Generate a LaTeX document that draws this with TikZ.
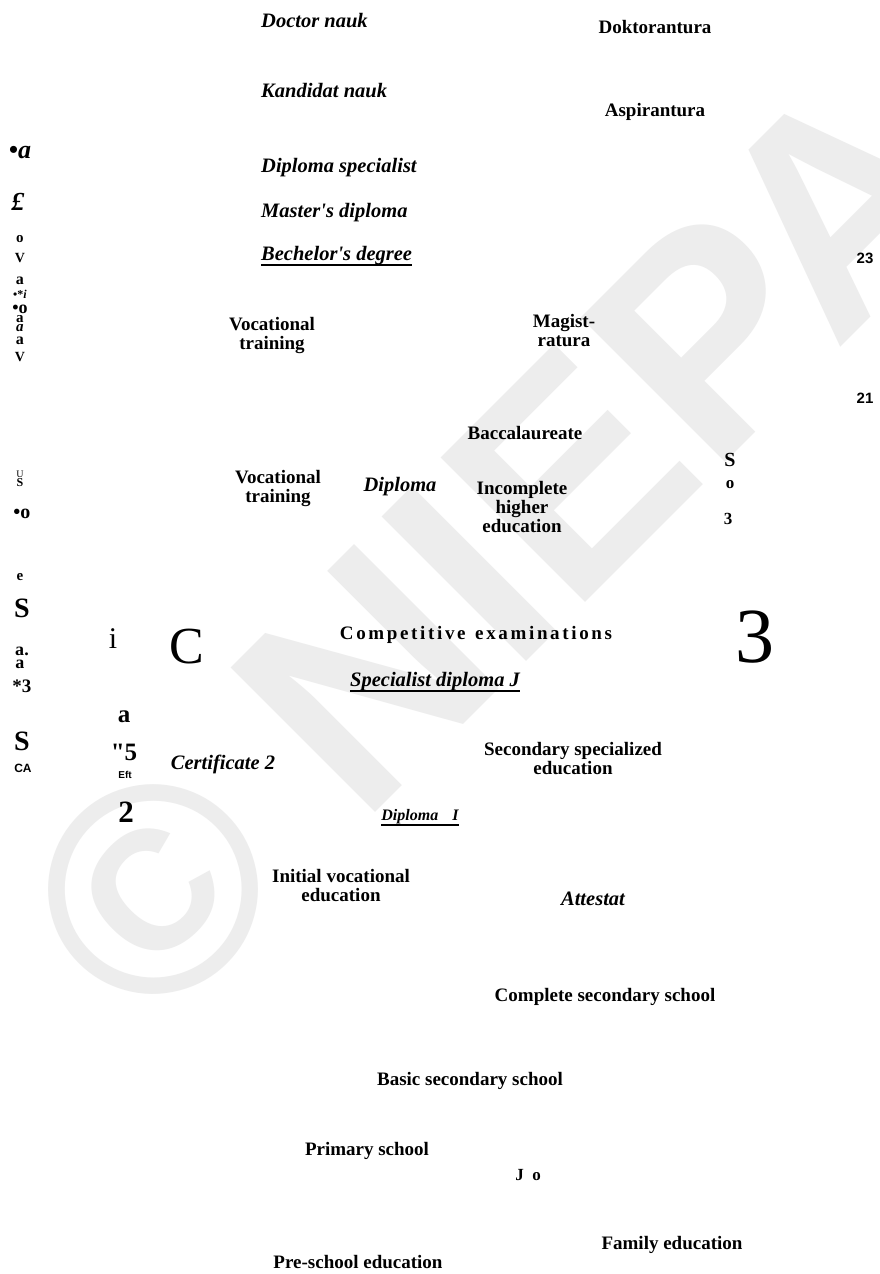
\documentclass[tikz,border=0pt]{standalone}
\usepackage{fontspec}
\setmainfont{Liberation Serif}
\newfontfamily\sansfam{Liberation Sans}
\usetikzlibrary{positioning}
\newcommand{\fsz}[1]{\fontsize{#1}{#1}\selectfont}
\definecolor{wmgray}{RGB}{237,237,237}

\begin{document}
\begin{tikzpicture}[
  x=1pt, y=-1pt,
  lbl/.style={inner sep=0pt, align=center, font=\fsz{19}\bfseries},
  ilbl/.style={inner sep=0pt, align=center, font=\fsz{20.5}\bfseries\itshape},
  gl/.style={inner sep=0pt, font=\fsz{#1}\bfseries},
  gi/.style={inner sep=0pt, font=\fsz{#1}\bfseries\itshape},
  gr/.style={inner sep=0pt, font=\fsz{#1}},
  gs/.style={inner sep=0pt, font=\sansfam\fsz{#1}\bfseries},
  uline/.style={line width=1.5pt},
]

\fill[white] (0,0) rectangle (880,1274);
\useasboundingbox (0,0) rectangle (880,1274);

%% WATERMARK
\node[rotate=45, anchor=base west, inner sep=0pt, text=wmgray,
      font=\sansfam\fsz{297}\bfseries] (wm) at (148,1040) {© NIEPA};

%% DEGREES (top)
\node[ilbl, anchor=west] (doctor)   at (261,21)  {Doctor nauk};
\node[lbl]               (doktor)   at (655,27)  {Doktorantura};
\node[ilbl, anchor=west] (kandidat) at (261,91)  {Kandidat nauk};
\node[lbl]               (aspir)    at (655,112) {Aspirantura};
\node[ilbl, anchor=west] (dipspec)  at (261,168) {Diploma specialist};
\node[ilbl, anchor=west] (master)   at (261,213) {Master\textquotesingle s diploma};
\node[ilbl, anchor=west] (bach)     at (261,256) {Bechelor\textquotesingle s degree};

%% HIGHER EDUCATION
\node[lbl] (voc1)    at (272,336) {Vocational\\training};
\node[lbl] (magist)  at (564,331) {Magist-\\ratura};
\node[lbl] (bacc)    at (525,433) {Baccalaureate};
\node[lbl] (voc2)    at (278,488) {Vocational\\training};
\node[ilbl] (dipl)   at (400,487) {Diploma};
\node[lbl] (incompl) at (522,507) {Incomplete\\higher\\education};

\node[lbl, font=\fsz{19}\bfseries\addfontfeature{LetterSpace=14}] (compet)
  at (476,635) {Competitive\enspace examinations};
\node[ilbl] (specdip) at (435,682) {Specialist diploma J};

%% SECONDARY
\node[lbl]  (secspec) at (573,759) {Secondary specialized\\education};
\node[ilbl] (cert)    at (223,764) {Certificate 2};
\node[ilbl, font=\fsz{16}\bfseries\itshape] (diplI) at (420,817)
  {Diploma\hspace{14pt}I};
\node[lbl]  (initvoc) at (341,886) {Initial vocational\\education};
\node[ilbl] (attest)  at (593,899) {Attestat};

%% SCHOOL
\node[lbl] (complsec) at (605,997)  {Complete secondary school};
\node[lbl] (basicsec) at (470,1081) {Basic secondary school};
\node[lbl] (primary)  at (367,1151) {Primary school};
\node[lbl, font=\fsz{17}\bfseries] (jo) at (528,1175) {J\enspace o};
\node[lbl] (family)   at (672,1245) {Family education};
\node[lbl] (presch)   at (358,1262) {Pre-school education};

%% UNDERLINES
\draw[uline] ([yshift=-4pt]bach.base west)    -- ([yshift=-4pt]bach.base east);
\draw[uline] ([yshift=-4pt]specdip.base west) -- ([yshift=-4pt]specdip.base east);
\draw[uline] ([yshift=-4pt]diplI.base west)   -- ([yshift=-4pt]diplI.base east);

%% LEFT MARGIN
\node[gi=26] (ma) at (20,153) {•a};
\node[gi=26] (mb) at (18,202) {£};
\node[gl=15] (mc) at (20,239) {o};
\node[gl=14] (md) at (20,258) {V};
\node[gl=16] (me) at (20,281) {a};
\node[gl=12] (mf) at (20,294) {•*\textit{i}};
\node[gl=18] (mg) at (20,309) {•o};
\node[gl=15] (mh) at (20,319) {a};
\node[gi=15] (mi) at (20,328) {a};
\node[gl=16] (mj) at (20,341) {a};
\node[gl=14] (mk) at (20,357) {V};

\node[gr=10] (ml) at (20,474) {U};
\node[gl=12] (mm) at (20,483) {S};
\node[gl=20] (mn) at (22,514) {•o};
\node[gl=15] (mo) at (20,577) {e};
\node[gl=28] (mp) at (22,608) {S};
\node[gl=18] (mq) at (22,651) {a.};
\node[gl=18] (mr) at (20,664) {a};
\node[gl=19] (ms) at (22,686) {*3};
\node[gl=28] (mt) at (22,741) {S};
\node[gs=12] (mu) at (23,768) {CA};

%% SECOND COLUMN
\node[gr=30] (na) at (113,639) {i};
\node[gl=25] (nb) at (124,717) {a};
\node[gl=25] (nc) at (124,752) {\textquotedbl 5};
\node[gs=10] (nd) at (125,775) {Eft};
\node[gl=31] (ne) at (126,812) {2};
\node[gr=52] (nf) at (187,647) {C};

%% RIGHT SIDE
\node[gl=20] (ra) at (730,460) {S};
\node[gl=17] (rb) at (730,485) {o};
\node[gl=17] (rc) at (728,519) {3};
\node[gr=78] (rd) at (755,637) {3};
\node[gs=15] (re) at (865,258) {23};
\node[gs=15] (rf) at (865,398) {21};

\end{tikzpicture}
\end{document}
